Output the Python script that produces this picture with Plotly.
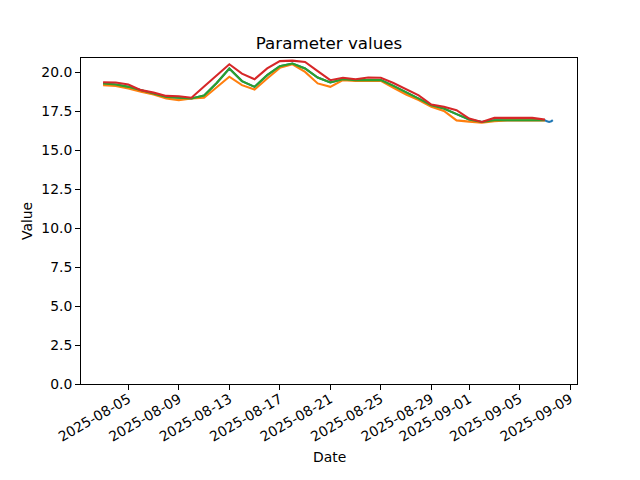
import plotly.graph_objects as go
import pandas as pd

dates = pd.date_range("2025-08-03", "2025-09-07", freq="D")

series_orange = [19.16, 19.11, 18.95, 18.73, 18.56, 18.3, 18.2, 18.3, 18.35, 19.0, 19.7, 19.16,
                 18.88, 19.59, 20.27, 20.5, 20.01, 19.27, 19.05, 19.48, 19.43, 19.43, 19.43, 18.99,
                 18.56, 18.2, 17.77, 17.5, 16.9, 16.82, 16.75, 16.85, 16.9, 16.9, 16.9, 16.9]
series_green = [19.27, 19.2, 19.05, 18.84, 18.62, 18.4, 18.35, 18.3, 18.5, 19.3, 20.23, 19.42,
                19.05, 19.8, 20.38, 20.55, 20.23, 19.65, 19.33, 19.54, 19.48, 19.48, 19.48, 19.11,
                18.73, 18.3, 17.87, 17.66, 17.3, 16.96, 16.8, 16.91, 16.91, 16.91, 16.91, 16.91]
series_red = [19.35, 19.33, 19.2, 18.84, 18.68, 18.47, 18.45, 18.35, 19.07, 19.8, 20.5, 19.9,
              19.54, 20.23, 20.7, 20.73, 20.65, 20.06, 19.48, 19.63, 19.54, 19.65, 19.63, 19.3,
              18.9, 18.5, 17.92, 17.77, 17.55, 17.02, 16.8, 17.06, 17.06, 17.06, 17.06, 16.95]

# blue series: hidden beneath the others, with a short hourly tail on the last day
blue_tail_times = ["2025-09-07 04:00", "2025-09-07 08:00", "2025-09-07 12:00", "2025-09-07 15:00"]
blue_tail_values = [16.84, 16.8, 16.84, 16.92]
blue_dates = list(dates) + [pd.Timestamp(t) for t in blue_tail_times]
blue_values = series_green + blue_tail_values

tick_dates = ["2025-08-05", "2025-08-09", "2025-08-13", "2025-08-17", "2025-08-21",
              "2025-08-25", "2025-08-29", "2025-09-01", "2025-09-05", "2025-09-09"]
y_ticks = [0.0, 2.5, 5.0, 7.5, 10.0, 12.5, 15.0, 17.5, 20.0]

colors = ["#1f77b4", "#ff7f0e", "#2ca02c", "#d62728"]
lw = 2.08

fig = go.Figure()
fig.add_trace(go.Scatter(x=blue_dates, y=blue_values, mode="lines",
                         line=dict(color=colors[0], width=lw), showlegend=False))
fig.add_trace(go.Scatter(x=dates, y=series_orange, mode="lines",
                         line=dict(color=colors[1], width=lw), showlegend=False))
fig.add_trace(go.Scatter(x=dates, y=series_green, mode="lines",
                         line=dict(color=colors[2], width=lw), showlegend=False))
fig.add_trace(go.Scatter(x=dates, y=series_red, mode="lines",
                         line=dict(color=colors[3], width=lw), showlegend=False))

# page body has an 8px margin; compensate so the plot lands where the reference has it
L, R, T, B = 73, 569, 50, 376
W, H = 640, 480
pw, ph = R - L, B - T

font = "DejaVu Sans"
fig.update_layout(
    width=W, height=H,
    margin=dict(l=L, r=W - R, t=T, b=H - B, autoexpand=False),
    plot_bgcolor="white", paper_bgcolor="white",
    font=dict(family=font, size=13.9, color="black"),
    title=dict(text="Parameter values", x=0.5, xref="paper", y=1 - 35 / H,
               yref="container", xanchor="center", yanchor="middle",
               font=dict(family=font, size=16.7, color="black")),
    xaxis=dict(range=["2025-08-01 06:00", "2025-09-09 13:00"], tickmode="array",
               tickvals=tick_dates, ticktext=tick_dates, tickangle=-30,
               ticks="outside", ticklen=4.9, tickwidth=1.1, tickcolor="black",
               ticklabelstandoff=-4,
               showline=True, linecolor="black", linewidth=1.1, mirror=True,
               showgrid=False, zeroline=False),
    yaxis=dict(range=[0, 20.9], tickmode="array", tickvals=y_ticks,
               ticktext=[f"{v:.1f}" for v in y_ticks],
               ticks="outside", ticklen=4.9, tickwidth=1.1, tickcolor="black",
               showline=True, linecolor="black", linewidth=1.1, mirror=True,
               showgrid=False, zeroline=False),
    annotations=[
        dict(text="Date", x=0.5, xref="paper", y=(B - 449) / ph, yref="paper",
             showarrow=False, xanchor="center", yanchor="middle",
             font=dict(family=font, size=13.9, color="black")),
        dict(text="Value", x=(19 - L) / pw, xref="paper", y=0.5, yref="paper",
             showarrow=False, textangle=-90, xanchor="center", yanchor="middle",
             font=dict(family=font, size=13.9, color="black")),
    ],
)

fig.write_html("out.html")
